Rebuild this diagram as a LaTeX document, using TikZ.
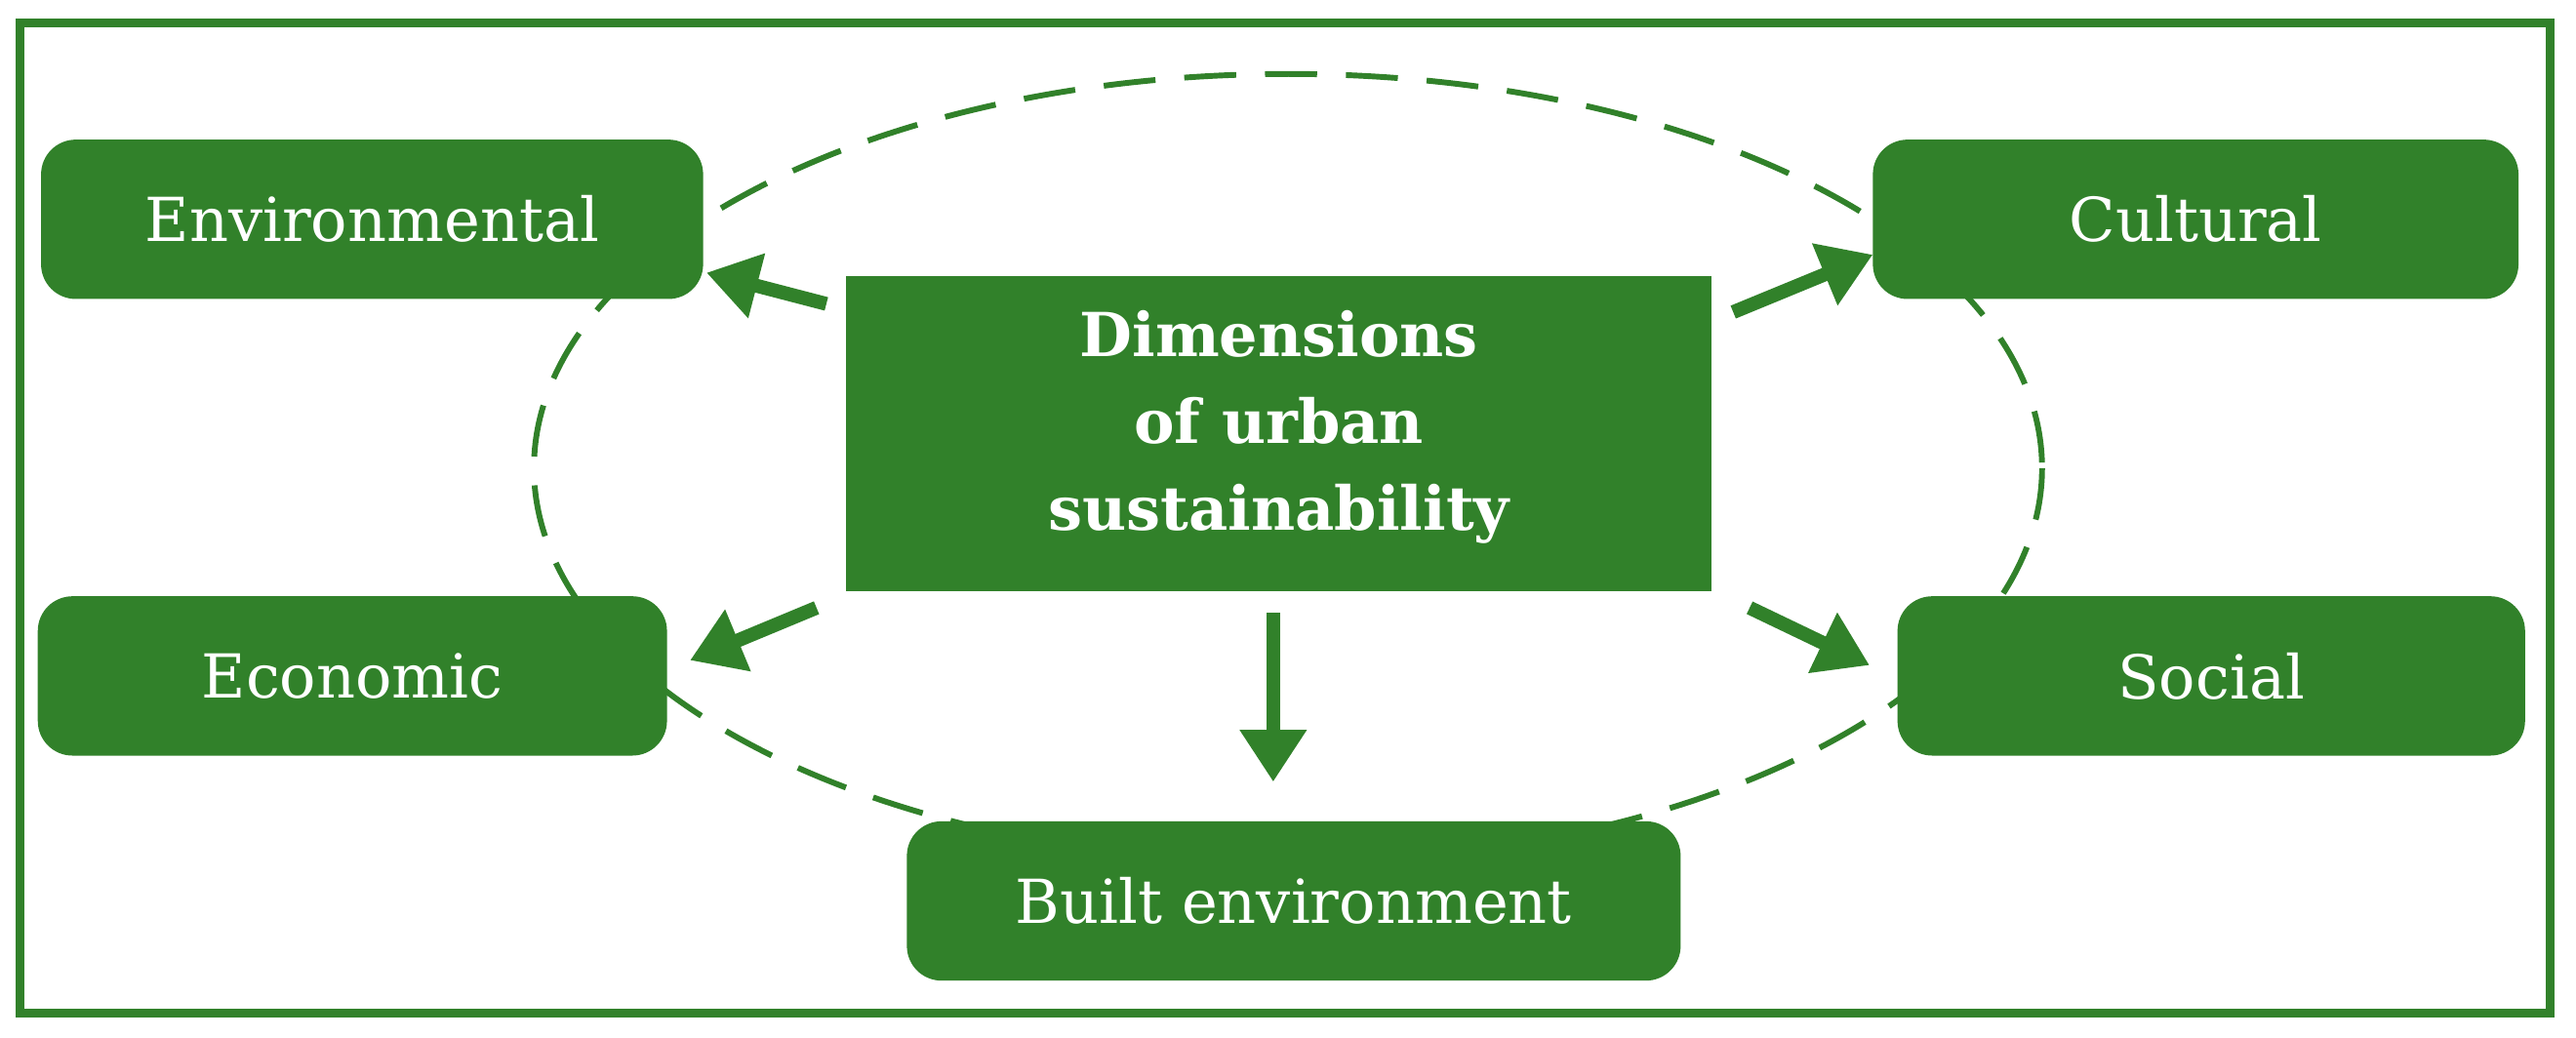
\documentclass[tikz,border=0pt]{standalone}
\usepackage{fontspec}
\setmainfont{DejaVu Serif}
\usetikzlibrary{arrows.meta}
\definecolor{gr}{HTML}{31812A}
\begin{document}
\begin{tikzpicture}[x=0.01cm,y=-0.01cm,
  box/.style={draw=none,fill=gr,rounded corners=6pt,text=white,font=\fontsize{10.5}{13}\selectfont},
  arr/.style={draw=gr,line width=2.4pt,-{Triangle[length=9pt,width=11pt]}}]
\useasboundingbox (0,0) rectangle (1568,631.4);
\draw[gr,line width=1.5pt] (12,14) rectangle (1552,617);
\draw[gr,line width=1pt,dash pattern=on 9pt off 5pt] (784,285) ellipse [x radius=459, y radius=240];
\path[box] (25,85) rectangle (428,182); \node[text=white,font=\fontsize{10.5}{13}\selectfont] (env) at (226.5,133.5) {Environmental};
\path[box] (1140,85) rectangle (1533,182); \node[text=white,font=\fontsize{10.5}{13}\selectfont] (cul) at (1336.5,133.5) {Cultural};
\path[box] (23,363) rectangle (406,460); \node[text=white,font=\fontsize{10.5}{13}\selectfont] (eco) at (214.5,411.5) {Economic};
\path[box] (1155,363) rectangle (1537,460); \node[text=white,font=\fontsize{10.5}{13}\selectfont] (soc) at (1346,411.5) {Social};
\path[box] (552,500) rectangle (1023,597); \node[text=white,font=\fontsize{10.5}{13}\selectfont] (blt) at (787.5,548.5) {Built environment};
\fill[gr] (515,168) rectangle (1042,360);
\node[text=white,align=center,font=\bfseries\fontsize{10.5}{15}\selectfont] (cen) at (778.5,260) {Dimensions\\of urban\\sustainability};
\coordinate (a1) at (503,185); \coordinate (b1) at (430,166);
\coordinate (a2) at (1055,190); \coordinate (b2) at (1140,155);
\coordinate (a3) at (497,370); \coordinate (b3) at (420,402);
\coordinate (a4) at (1065,370); \coordinate (b4) at (1138,405);
\coordinate (a5) at (775,373); \coordinate (b5) at (775,476);
\draw[arr] (a1) -- (b1);
\draw[arr] (a2) -- (b2);
\draw[arr] (a3) -- (b3);
\draw[arr] (a4) -- (b4);
\draw[arr] (a5) -- (b5);
\end{tikzpicture}
\end{document}
